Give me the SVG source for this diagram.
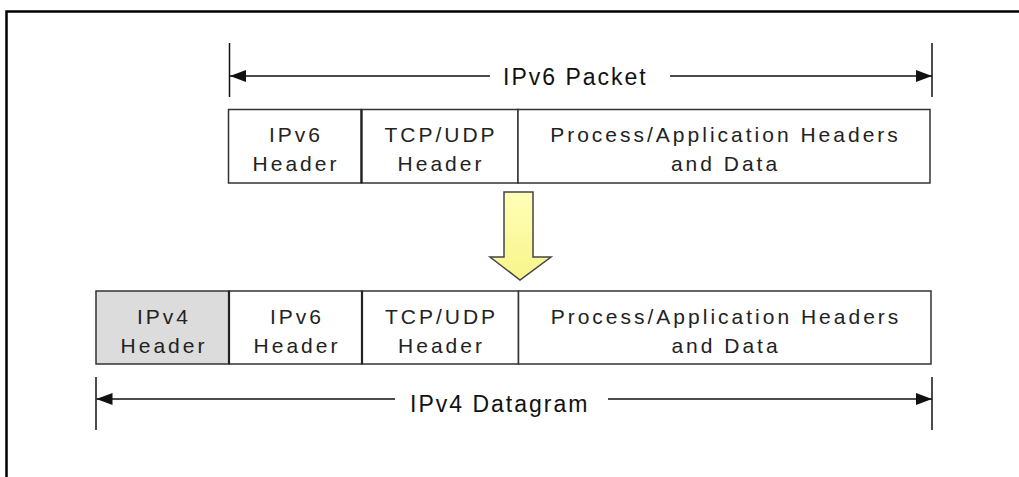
<svg xmlns="http://www.w3.org/2000/svg" width="1019" height="477" viewBox="0 0 1019 477">
  <defs>
    <marker id="ah" markerUnits="userSpaceOnUse" markerWidth="16" markerHeight="12" refX="16" refY="6" orient="auto-start-reverse">
      <path d="M0,0 L16,6 L0,12 Z" fill="#111"/>
    </marker>
    <linearGradient id="yel" x1="0" y1="0" x2="0" y2="1">
      <stop offset="0" stop-color="#ffffb8"/>
      <stop offset="1" stop-color="#f8f48a"/>
    </linearGradient>
    <style>
      .box { fill: #fff; stroke: #333; stroke-width: 1.5; }
      .gray { fill: #dcdcdc; }
      .lbl { font-family: "Liberation Sans", Arial, sans-serif; font-size: 21px; letter-spacing: 3px; fill: #222; text-anchor: middle; }
      .dim { font-family: "Liberation Sans", Arial, sans-serif; font-size: 23px; letter-spacing: 2px; fill: #111; }
      .dl { stroke: #111; stroke-width: 1.5; fill: none; }
      .tick { stroke: #111; stroke-width: 1.5; }
    </style>
  </defs>
  <rect x="0" y="0" width="1019" height="477" fill="#fff"/>
  <rect x="6.5" y="11.5" width="1100" height="500" fill="none" stroke="#000" stroke-width="2.5"/>

  <g id="connectors">
    <line class="tick" x1="229.5" y1="43" x2="229.5" y2="97"/>
    <line class="tick" x1="932" y1="43" x2="932" y2="97"/>
    <line class="dl" x1="230" y1="76" x2="490" y2="76" marker-start="url(#ah)"/>
    <line class="dl" x1="670" y1="76" x2="932" y2="76" marker-end="url(#ah)"/>
    <line class="tick" x1="96" y1="377" x2="96" y2="430"/>
    <line class="tick" x1="932" y1="377" x2="932" y2="430"/>
    <line class="dl" x1="96.5" y1="399" x2="395" y2="399" marker-start="url(#ah)"/>
    <line class="dl" x1="608" y1="399" x2="932" y2="399" marker-end="url(#ah)"/>
    <path id="down-arrow" d="M504,192 L533,192 L533,257 L551,257 L520,280 L490,257 L504,257 Z" fill="url(#yel)" stroke="#444" stroke-width="1.5" stroke-linejoin="miter"/>
  </g>

  <g id="label-ipv6-packet">
    <text class="dim" x="503" y="84.5">IPv6 Packet</text>
  </g>
  <g id="label-ipv4-datagram">
    <text class="dim" x="410" y="411.5">IPv4 Datagram</text>
  </g>

  <g id="ipv6-packet">
    <g id="p6-ipv6-header">
      <rect class="box" x="228.5" y="109.5" width="133" height="73.5"/>
      <text class="lbl" x="296" y="141.5">IPv6</text>
      <text class="lbl" x="296" y="171">Header</text>
    </g>
    <g id="p6-tcp-header">
      <rect class="box" x="361.5" y="109.5" width="156.5" height="73.5"/>
      <text class="lbl" x="441" y="141.5">TCP/UDP</text>
      <text class="lbl" x="441" y="171">Header</text>
    </g>
    <g id="p6-data">
      <rect class="box" x="518" y="109.5" width="412" height="73.5"/>
      <text class="lbl" x="725.5" y="141.5">Process/Application Headers</text>
      <text class="lbl" x="725.5" y="171">and Data</text>
    </g>
    <line x1="361.5" y1="109.5" x2="361.5" y2="183" stroke="#222" stroke-width="2.2"/>
  </g>

  <g id="ipv4-datagram">
    <g id="d4-ipv4-header">
      <rect class="box gray" x="96" y="291" width="133" height="73"/>
      <text class="lbl" x="164" y="323.5">IPv4</text>
      <text class="lbl" x="164" y="353">Header</text>
    </g>
    <g id="d4-ipv6-header">
      <rect class="box" x="229" y="291" width="133" height="73"/>
      <text class="lbl" x="297" y="323.5">IPv6</text>
      <text class="lbl" x="297" y="353">Header</text>
    </g>
    <g id="d4-tcp-header">
      <rect class="box" x="362" y="291" width="156.5" height="73"/>
      <text class="lbl" x="441.5" y="323.5">TCP/UDP</text>
      <text class="lbl" x="441.5" y="353">Header</text>
    </g>
    <g id="d4-data">
      <rect class="box" x="518.5" y="291" width="412.5" height="73"/>
      <text class="lbl" x="726" y="323.5">Process/Application Headers</text>
      <text class="lbl" x="726" y="353">and Data</text>
    </g>
    <line x1="229" y1="291" x2="229" y2="364" stroke="#222" stroke-width="2.2"/>
    <line x1="362" y1="291" x2="362" y2="364" stroke="#222" stroke-width="2.2"/>
  </g>
</svg>
